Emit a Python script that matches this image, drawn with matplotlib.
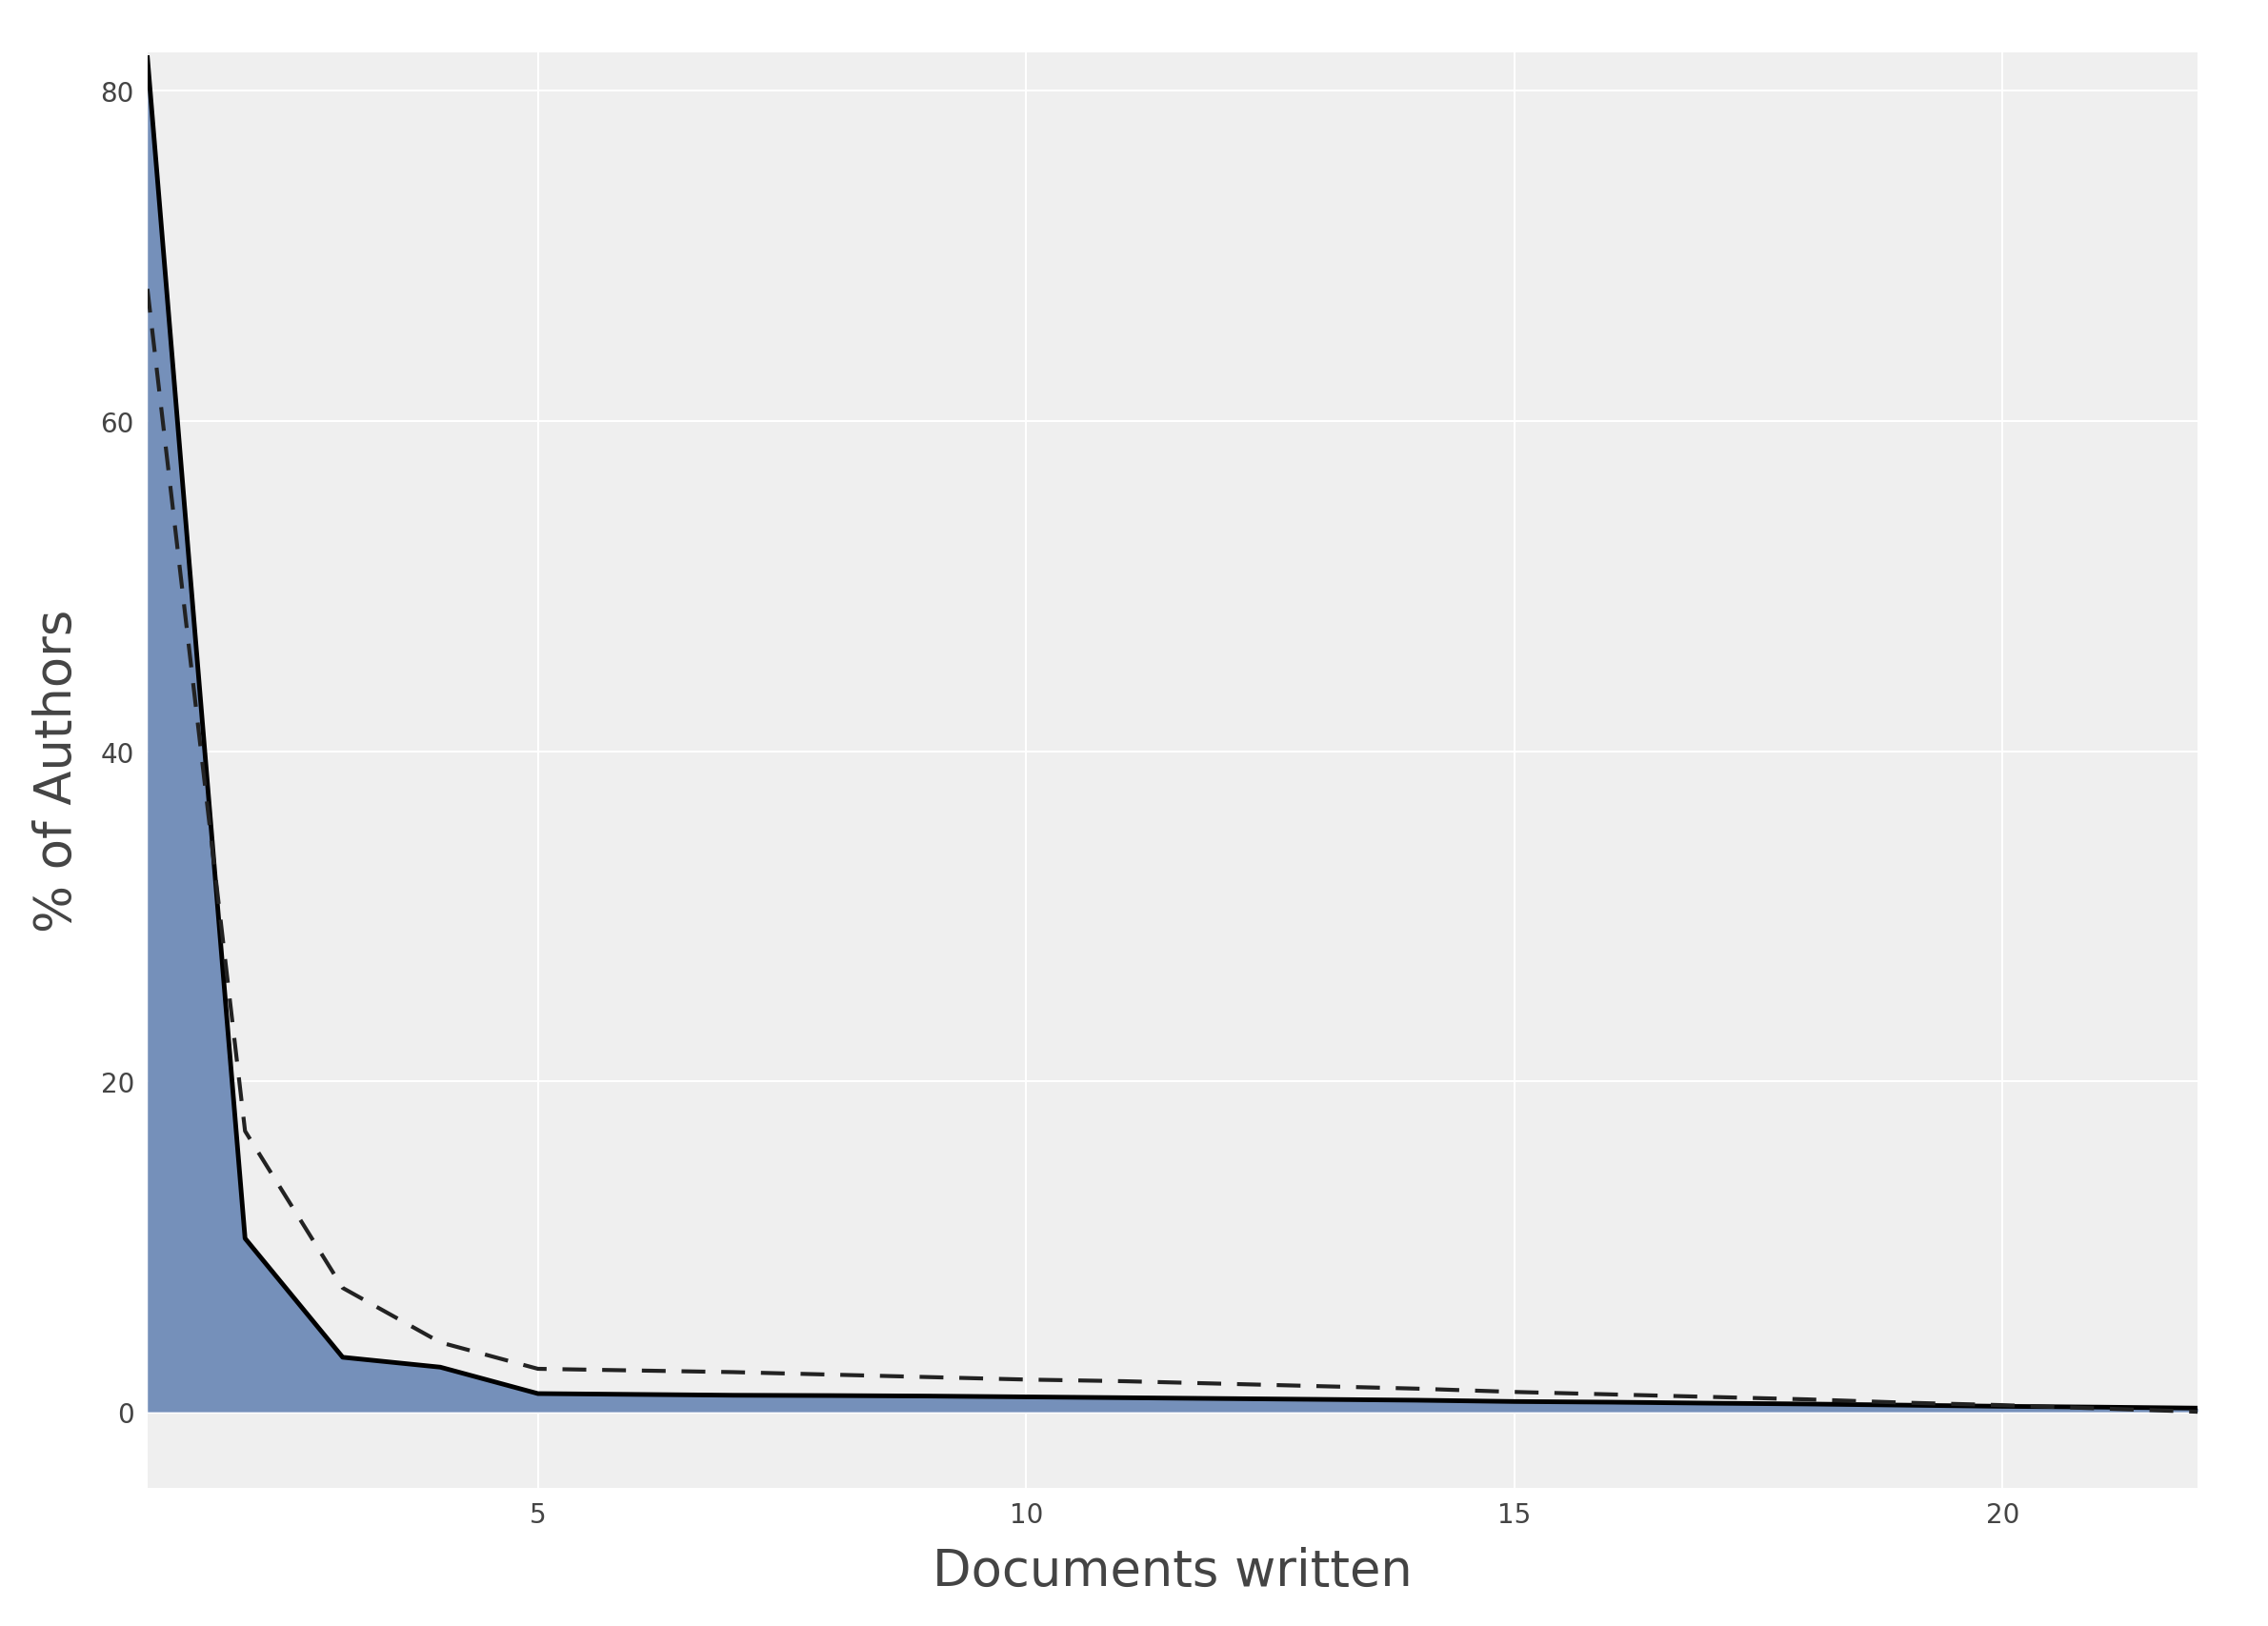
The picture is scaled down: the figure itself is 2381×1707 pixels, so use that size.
import matplotlib.pyplot as plt

docs = list(range(1, 23))
solid = [82.0, 10.5, 3.3, 2.7, 1.1, 1.05, 1.0, 0.98, 0.95, 0.9, 0.85, 0.8, 0.75, 0.7, 0.62,
         0.58, 0.52, 0.47, 0.4, 0.33, 0.28, 0.22]
dashed = [68.0, 17.0, 7.5, 4.2, 2.6, 2.5, 2.4, 2.25, 2.1, 1.95, 1.85, 1.7, 1.55, 1.4, 1.2,
          1.05, 0.9, 0.75, 0.55, 0.4, 0.2, 0.0]

fig = plt.figure(figsize=(23.81, 17.08), dpi=100)
ax = fig.add_axes([0.065, 0.085, 0.904, 0.882])
ax.set_facecolor('#efefef')

ax.fill_between(docs, solid, 0, color='#7590ba', linewidth=0)
ax.plot(docs, solid, color='black', linewidth=3.5)
ax.plot(docs, dashed, color='#222222', linewidth=3, linestyle=(0, (6, 4)))
ax.axhline(0, color='white', linewidth=3, zorder=0.5)

ax.set_xlim(1, 22)
ax.set_ylim(-4.6, 82.3)
ax.set_xticks([5, 10, 15, 20])
ax.set_yticks([0, 20, 40, 60, 80])
ax.grid(True, color='white', linewidth=1.5)
ax.set_axisbelow(True)
for s in ax.spines.values():
    s.set_visible(False)
ax.tick_params(length=0, labelsize=20, labelcolor='#444444', pad=10)

ax.set_xlabel("Documents written", fontsize=38, color='#444444', labelpad=14)
ax.set_ylabel("% of Authors", fontsize=38, color='#444444', labelpad=14)

fig.savefig("out.png")
